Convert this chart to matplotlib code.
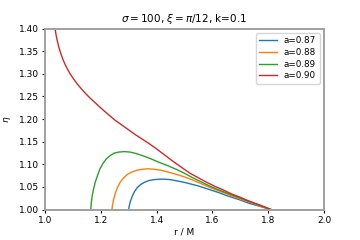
import matplotlib
matplotlib.use("Agg")
import matplotlib.pyplot as plt
import numpy as np

# values
r_087   = [1.300, 1.302, 1.306, 1.312, 1.320, 1.330, 1.342, 1.356, 1.372, 1.39, 1.41, 1.43, 1.45,
           1.475, 1.50, 1.525, 1.55, 1.575, 1.60, 1.625, 1.65, 1.675, 1.70, 1.73, 1.77, 1.81]
eta_087 = [1.000, 1.008, 1.018, 1.028, 1.039, 1.048, 1.055, 1.060, 1.064, 1.066, 1.067, 1.067, 1.066,
           1.063, 1.060, 1.056, 1.052, 1.047, 1.042, 1.037, 1.031, 1.026, 1.021, 1.014, 1.007, 1.000]

r_088   = [1.240, 1.242, 1.246, 1.252, 1.260, 1.270, 1.282, 1.296, 1.312, 1.33, 1.35, 1.37, 1.39, 1.414,
           1.44, 1.47, 1.50, 1.53, 1.56, 1.59, 1.62, 1.65, 1.68, 1.71, 1.74, 1.775, 1.81]
eta_088 = [1.000, 1.010, 1.022, 1.036, 1.049, 1.061, 1.070, 1.078, 1.083, 1.087, 1.089, 1.090, 1.089, 1.087,
           1.083, 1.078, 1.072, 1.065, 1.057, 1.049, 1.042, 1.035, 1.028, 1.021, 1.015, 1.007, 1.000]

r_089   = [1.164, 1.166, 1.169, 1.174, 1.180, 1.188, 1.197, 1.208, 1.220, 1.235, 1.25, 1.265, 1.284, 1.305,
           1.325, 1.35, 1.38, 1.41, 1.44, 1.47, 1.50, 1.53, 1.56, 1.59, 1.62, 1.65, 1.68, 1.71, 1.74, 1.775, 1.81]
eta_089 = [1.000, 1.015, 1.030, 1.045, 1.060, 1.075, 1.090, 1.102, 1.112, 1.120, 1.125, 1.127, 1.128, 1.127,
           1.124, 1.119, 1.112, 1.104, 1.097, 1.089, 1.080, 1.070, 1.061, 1.052, 1.044, 1.037, 1.030, 1.023,
           1.016, 1.008, 1.000]

r_090   = [1.036, 1.040, 1.045, 1.050, 1.056, 1.063, 1.071, 1.080, 1.090, 1.102, 1.115, 1.130, 1.146, 1.162,
           1.18, 1.20, 1.225, 1.25, 1.275, 1.30, 1.325, 1.35, 1.375, 1.40, 1.43, 1.46, 1.49, 1.52, 1.55,
           1.58, 1.61, 1.64, 1.67, 1.70, 1.73, 1.77, 1.81]
eta_090 = [1.400, 1.385, 1.370, 1.358, 1.346, 1.334, 1.322, 1.311, 1.300, 1.289, 1.278, 1.267, 1.256, 1.246,
           1.236, 1.2245, 1.211, 1.198, 1.187, 1.176, 1.165, 1.155, 1.145, 1.134, 1.120, 1.106, 1.093, 1.080,
           1.070, 1.060, 1.051, 1.043, 1.034, 1.027, 1.019, 1.010, 1.000]

labels = ["a=0.87", "a=0.88", "a=0.89", "a=0.90"]
colors = ["#1f77b4", "#ff7f0e", "#2ca02c", "#d62728"]

fig = plt.figure(figsize=(3.6, 2.4), dpi=100)
ax = fig.add_axes([0.125, 0.127, 0.775, 0.754])

series = [(r_087, eta_087), (r_088, eta_088), (r_089, eta_089), (r_090, eta_090)]
for (r, eta), lab, c in zip(series, labels, colors):
    ax.plot(r, eta, color=c, lw=1.0, label=lab)

ax.set_xlim(1.0, 2.0)
ax.set_ylim(1.0, 1.4)
ax.set_xticks(np.arange(1.0, 2.01, 0.2))
ax.set_yticks(np.arange(1.0, 1.401, 0.05))
ax.yaxis.set_major_formatter(matplotlib.ticker.FormatStrFormatter("%.2f"))
ax.tick_params(labelsize=6.5, length=2.5, width=0.8, pad=2)

for s in ax.spines.values():
    s.set_color("#a0a0a0")
    s.set_linewidth(1.4)

ax.set_title(r"$\sigma = 100$, $\xi = \pi/12$, k=0.1", fontsize=7.5, pad=5)
ax.set_xlabel("r / M", fontsize=6.5, labelpad=2)
ax.set_ylabel(r"$\eta$", fontsize=6.5, labelpad=4)

ax.legend(loc="upper right", fontsize=6.3, handlelength=2.0, labelspacing=0.3,
          borderpad=0.4, framealpha=0.8)

fig.savefig("out.png", dpi=100)
